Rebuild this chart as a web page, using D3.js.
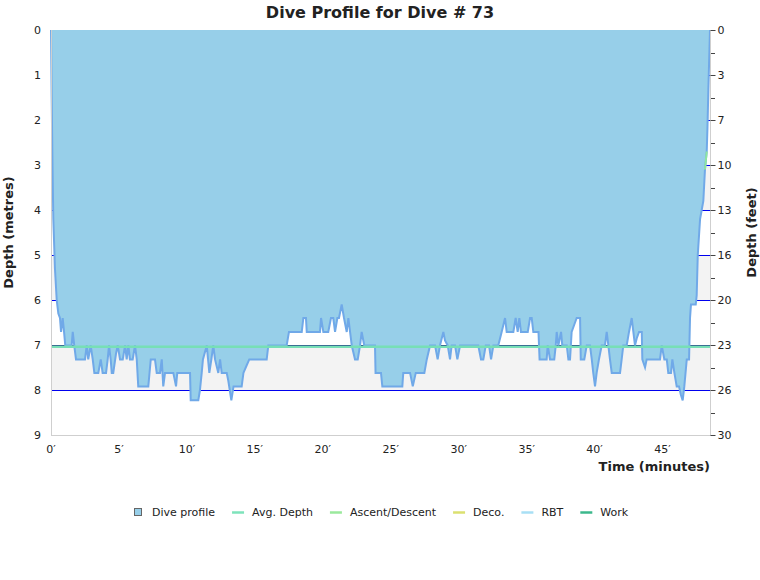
<!DOCTYPE html>
<meta charset="utf-8" />
<title>Dive Profile for Dive # 73</title>
<style>
  body { margin: 0; background: #fff; }
  text { font-family: "DejaVu Sans", Verdana, sans-serif; fill: #222; }
  .axis-title { font-weight: bold; font-size: 13px; }
  .tick-label { font-size: 11px; }
</style>
<body>
<script src="https://d3js.org/d3.v7.min.js"></script>
<script>
  // profile samples, minutes / metres
  var times = [0, 0.05, 0.11, 0.17, 0.29, 0.42, 0.54, 0.66, 0.74, 0.86, 0.96, 1.05, 1.52, 1.60, 1.71, 1.84,
    2.50, 2.63, 2.74, 2.92, 3.07, 3.19, 3.48, 3.66, 3.80, 4.05, 4.17, 4.27, 4.39, 4.47, 4.58, 4.78, 4.91,
    5.08, 5.28, 5.45, 5.57, 5.69, 5.81, 6.01, 6.18, 6.31, 6.42, 7.16, 7.34, 7.65, 7.78, 8.02, 8.15, 8.26,
    8.39, 9.00, 9.20, 9.29, 10.23, 10.28, 10.84, 10.96, 11.09, 11.18, 11.46, 11.65, 11.80, 11.94, 12.07,
    12.31, 12.44, 12.56, 12.93, 13.05, 13.27, 13.43, 13.59, 14.03, 14.16, 14.40, 14.59, 15.87, 15.99,
    17.34, 17.51, 18.45, 18.57, 18.76, 18.82, 19.79, 19.87, 20.04, 20.40, 20.60, 20.77, 20.90, 21.07,
    21.19, 21.39, 21.56, 21.76, 21.88, 22.13, 22.37, 22.57, 22.74, 22.86, 23.05, 23.84, 23.88, 24.28,
    24.38, 25.85, 25.92, 26.42, 26.62, 26.84, 27.47, 27.65, 27.89, 28.26, 28.45, 28.62, 28.87, 28.99,
    29.19, 29.36, 29.48, 29.73, 29.90, 30.10, 31.44, 31.64, 31.81, 31.99, 32.23, 32.38, 32.55, 32.91,
    33.16, 33.41, 33.53, 34.02, 34.19, 34.34, 34.46, 34.58, 35.08, 35.25, 35.37, 35.49, 35.87, 35.95,
    36.47, 36.55, 36.72, 37.03, 37.14, 37.21, 37.33, 37.53, 37.62, 37.95, 38.07, 38.19, 38.31, 38.50,
    38.68, 38.93, 38.98, 39.24, 39.42, 39.66, 39.79, 39.90, 40.03, 40.15, 40.32, 40.52, 40.76, 40.89,
    41.01, 41.13, 41.26, 41.87, 41.99, 42.11, 42.36, 42.53, 42.73, 42.85, 42.97, 43.10, 43.27, 43.47,
    43.51, 43.71, 43.83, 44.81, 44.94, 45.13, 45.31, 45.42, 45.62, 45.72, 45.87, 46.04, 46.21, 46.34,
    46.48, 46.60, 46.78, 46.95, 47.02, 47.09, 47.44, 47.51, 47.59, 47.76, 47.88, 48.00, 48.12, 48.25,
    48.30, 48.37, 48.45, 48.49];
  var depths = [0, 1.5, 3.0, 4.2, 5.3, 6.0, 6.3, 6.4, 6.71, 6.4, 6.71, 7.01, 7.01, 6.71, 7.01, 7.32,
    7.32, 7.01, 7.32, 7.01, 7.32, 7.62, 7.62, 7.32, 7.62, 7.62, 7.32, 7.01, 7.32, 7.62, 7.62, 7.2, 7.01,
    7.32, 7.32, 7.01, 7.32, 7.01, 7.32, 7.32, 7.01, 7.32, 7.92, 7.92, 7.32, 7.32, 7.62, 7.62, 7.32, 7.92,
    7.62, 7.62, 7.92, 7.62, 7.62, 8.23, 8.23, 8.0, 7.62, 7.32, 7.01, 7.62, 7.32, 7.01, 7.32,
    7.62, 7.32, 7.62, 7.62, 7.8, 8.23, 7.92, 7.92, 7.92, 7.62, 7.45, 7.32, 7.32, 7.01,
    7.01, 6.71, 6.71, 6.4, 6.4, 6.71, 6.71, 6.4, 6.71, 6.71, 6.4, 6.4, 6.71, 6.4,
    6.4, 6.1, 6.4, 6.71, 6.4, 7.01, 7.32, 7.32, 7.01, 6.71, 7.01, 7.01, 7.62, 7.62,
    7.92, 7.92, 7.62, 7.62, 7.92, 7.62, 7.62, 7.32, 7.01, 7.01, 7.32, 7.01, 6.71, 6.9,
    7.01, 7.32, 7.01, 7.01, 7.32, 7.01, 7.01, 7.32, 7.32, 7.01, 7.01, 7.32, 7.01, 7.01,
    6.71, 6.4, 6.71, 6.71, 6.4, 6.71, 6.4, 6.71, 6.71, 6.4, 6.4, 6.71, 6.71, 7.32,
    7.32, 7.01, 7.32, 7.32, 7.01, 6.71, 7.01, 6.71, 7.01, 7.01, 7.32, 7.32, 6.71, 6.55,
    6.4, 6.4, 7.32, 7.32, 7.01, 7.01, 7.32, 7.62, 7.92, 7.62, 7.32, 7.01, 7.01, 6.71,
    7.01, 7.32, 7.62, 7.62, 7.32, 7.01, 7.01, 6.71, 6.4, 6.71, 7.01, 6.85, 6.71, 6.71,
    7.32, 7.5, 7.32, 7.32, 7.01, 7.32, 7.32, 7.62, 7.62, 7.32, 7.62, 7.92, 7.92, 8.1,
    8.23, 7.92, 7.32, 7.32, 6.4, 6.1, 6.1, 5.9, 5.0, 4.2, 4.0, 3.8, 3.1, 2.7,
    2.2, 1.33, 0.44, 0];

  // small ascent/descent marker on the way up
  var ascentTimes = [48.12, 48.25];
  var ascentDepths = [3.1, 2.7];

  var avgDepth = 7.04;
  var maxTime = 48.49;

  var depthTicks = [0, 1, 2, 3, 4, 5, 6, 7, 8, 9];
  var feetLabels = ["0", "3", "7", "10", "13", "16", "20", "23", "26", "30"];
  var timeTicks = [0, 5, 10, 15, 20, 25, 30, 35, 40, 45];

  var legendNames = ["Dive profile", "Avg. Depth", "Ascent/Descent", "Deco.", "RBT", "Work"];
  var legendColors = ["#97cfe9", "#7ee3bb", "#9ae99c", "#dbe070", "#a8dff5", "#3cb88c"];

  var W = 760, H = 580;
  var plotL = 51, plotR = 710, plotT = 30, plotB = 435;

  var svg = d3.select("body").append("svg")
    .attr("width", W)
    .attr("height", H);

  var x = d3.scaleLinear().domain([0, maxTime]).range([plotL, plotR]);
  var y = d3.scaleLinear().domain([0, 9]).range([plotT, plotB]);

  // alternate bands
  svg.append("g").selectAll("rect")
    .data(depthTicks.slice(0, -1).filter(function(d, i) { return i % 2 == 1; }))
    .enter().append("rect")
    .attr("x", plotL)
    .attr("width", plotR - plotL)
    .attr("y", function(d) { return y(d); })
    .attr("height", function(d) { return y(d + 1) - y(d); })
    .attr("fill", "#f3f3f3");

  // grid lines
  svg.append("g").selectAll("line")
    .data(depthTicks.slice(1, -1))
    .enter().append("line")
    .attr("x1", plotL).attr("x2", plotR)
    .attr("y1", function(d) { return Math.round(y(d)) + 0.5; })
    .attr("y2", function(d) { return Math.round(y(d)) + 0.5; })
    .attr("stroke", function(d) { return d == 7 ? "#000070" : "#0000ee"; })
    .attr("stroke-width", 1.2);

  // top border
  svg.append("line")
    .attr("x1", plotL).attr("x2", plotR)
    .attr("y1", plotT + 0.5).attr("y2", plotT + 0.5)
    .attr("stroke", "#d0d0d0");

  // the profile
  var pts = times.map(function(t, i) { return [t, depths[i]]; });
  var area = d3.area()
    .x(function(d) { return x(d[0]); })
    .y0(y(0))
    .y1(function(d) { return y(d[1]); });
  svg.append("path")
    .datum(pts)
    .attr("d", area)
    .attr("fill", "#97cfe9");
  svg.append("path")
    .datum(pts)
    .attr("d", d3.line().x(function(d) { return x(d[0]); }).y(function(d) { return y(d[1]); }))
    .attr("fill", "none")
    .attr("stroke", "#70a9e8")
    .attr("stroke-width", 2);

  // ascent/descent bit
  svg.append("path")
    .datum(ascentTimes.map(function(t, i) { return [t, ascentDepths[i]]; }))
    .attr("d", d3.line().x(function(d) { return x(d[0]); }).y(function(d) { return y(d[1]); }))
    .attr("fill", "none")
    .attr("stroke", "#8fe6a0")
    .attr("stroke-width", 2);

  // average depth
  svg.append("line")
    .attr("x1", plotL).attr("x2", plotR)
    .attr("y1", y(avgDepth)).attr("y2", y(avgDepth))
    .attr("stroke", "#77dfb6")
    .attr("stroke-width", 2.5);

  // axes lines
  svg.append("line").attr("x1", plotL + 0.5).attr("x2", plotL + 0.5)
    .attr("y1", plotT).attr("y2", plotB).attr("stroke", "#cfcfcf");
  svg.append("line").attr("x1", plotR + 0.5).attr("x2", plotR + 0.5)
    .attr("y1", plotT).attr("y2", plotB).attr("stroke", "#cfcfcf");
  svg.append("line").attr("x1", plotL).attr("x2", plotR + 1)
    .attr("y1", plotB + 0.5).attr("y2", plotB + 0.5).attr("stroke", "#cfcfcf");

  // left labels
  svg.append("g").selectAll("text")
    .data(depthTicks)
    .enter().append("text")
    .attr("class", "tick-label")
    .attr("x", 41)
    .attr("y", function(d) { return y(d); })
    .attr("dy", "0.35em")
    .attr("text-anchor", "end")
    .text(function(d) { return d; });

  // right axis, feet
  var ry = svg.append("g")
    .attr("transform", "translate(" + (plotR + 0.5) + ",0)")
    .call(d3.axisRight(y).tickValues(depthTicks).tickSize(5).tickPadding(2)
      .tickFormat(function(d, i) { return feetLabels[i]; }));
  ry.select(".domain").remove();
  ry.selectAll(".tick line").attr("stroke", "#444");
  ry.selectAll("text").attr("class", "tick-label").style("font-size", "11px")
    .style("font-family", "DejaVu Sans, Verdana, sans-serif")
    .attr("fill", "#222");
  svg.append("g").selectAll("line")
    .data(depthTicks.slice(0, -1).map(function(d) { return d + 0.5; }))
    .enter().append("line")
    .attr("x1", plotR + 1).attr("x2", plotR + 5)
    .attr("y1", function(d) { return Math.round(y(d)) + 0.5; })
    .attr("y2", function(d) { return Math.round(y(d)) + 0.5; })
    .attr("stroke", "#444");

  // bottom labels
  svg.append("g").selectAll("text")
    .data(timeTicks)
    .enter().append("text")
    .attr("class", "tick-label")
    .attr("x", function(d) { return x(d); })
    .attr("y", 453)
    .attr("text-anchor", "middle")
    .text(function(d) { return d + "\u2032"; });

  // titles
  svg.append("text")
    .attr("x", 380).attr("y", 18)
    .attr("text-anchor", "middle")
    .style("font-size", "16px").style("font-weight", "bold")
    .text("Dive Profile for Dive # 73");
  svg.append("text").attr("class", "axis-title")
    .attr("x", plotR).attr("y", 471)
    .attr("text-anchor", "end")
    .text("Time (minutes)");
  svg.append("text").attr("class", "axis-title")
    .attr("transform", "translate(13," + (plotT + plotB) / 2 + ") rotate(-90)")
    .attr("text-anchor", "middle")
    .text("Depth (metres)");
  svg.append("text").attr("class", "axis-title")
    .attr("transform", "translate(756," + (plotT + plotB) / 2 + ") rotate(-90)")
    .attr("text-anchor", "middle")
    .text("Depth (feet)");

  // legend
  var legend = svg.append("g");
  var lx = 134;
  legendNames.forEach(function(name, i) {
    var g = legend.append("g").attr("transform", "translate(" + lx + ",512)");
    if (i == 0) {
      g.append("rect").attr("x", 0.5).attr("y", -3.5).attr("width", 7).attr("height", 7)
        .attr("fill", legendColors[i]).attr("stroke", "#666");
    } else {
      g.append("line").attr("x1", 0).attr("x2", 12).attr("y1", 0.5).attr("y2", 0.5)
        .attr("stroke", legendColors[i]).attr("stroke-width", 2.5);
    }
    var t = g.append("text").attr("x", i == 0 ? 18 : 20).attr("y", 0).attr("dy", "0.35em")
      .style("font-size", "11px")
      .text(name);
    lx += (i == 0 ? 18 : 20) + t.node().getComputedTextLength() + 17;
  });
</script>
</body>
